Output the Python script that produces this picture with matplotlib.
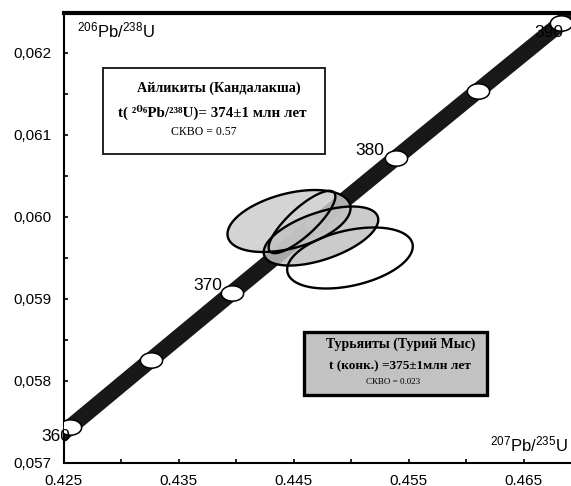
import numpy as np
import matplotlib.pyplot as plt
from matplotlib.patches import Rectangle, Polygon
from matplotlib.path import Path
from matplotlib.ticker import MultipleLocator, FixedLocator

plt.rcParams['mathtext.fontset'] = 'custom'
plt.rcParams['mathtext.rm'] = 'Liberation Sans'
plt.rcParams['mathtext.it'] = 'Liberation Sans:italic'
plt.rcParams['mathtext.bf'] = 'Liberation Sans:bold'

# decay constants (1/yr)
l238 = 1.55125e-10
l235 = 9.8485e-10

# concordia age marks, Ma
ages = [360, 365, 370, 375, 380, 385, 390]
label_ages = [360, 370, 380, 390]

# analyses: centre 207Pb/235U, 206Pb/238U, 2s half-widths, error correlation
pt_x = [0.44461, 0.44574, 0.44739, 0.44991]
pt_y = [0.059951, 0.059939, 0.059768, 0.059500]
sig_x = [0.00535, 0.00290, 0.00498, 0.00546]
sig_y = [0.000378, 0.000380, 0.000360, 0.000372]
rho = [0.42, 0.82, 0.55, 0.38]
fills = ['#cdcdcd', None, '#c2c2c2', None]

x_ticks = [0.425, 0.435, 0.445, 0.455, 0.465]
y_ticks = [0.057, 0.058, 0.059, 0.060, 0.061, 0.062]


def concordia(t_ma):
    t = np.asarray(t_ma) * 1e6
    return np.exp(l235 * t) - 1, np.exp(l238 * t) - 1


def error_ellipse(cx, cy, sx, sy, r, n=200):
    th = np.linspace(0, 2 * np.pi, n)
    x = cx + sx * np.cos(th)
    y = cy + sy * (r * np.cos(th) + np.sqrt(1 - r ** 2) * np.sin(th))
    return np.column_stack([x, y])


fig = plt.figure(figsize=(5.71, 4.86), dpi=100)
W, H = 571, 486
ax = fig.add_axes([63.5 / W, (H - 463) / H, (W - 63.5) / W, 450 / H])
ax.set_xlim(0.425, 0.425 + 507.5 / 11500)
ax.set_ylim(0.057, 0.057 + 450 / 82000)

# concordia band
tt = np.linspace(359, 393, 300)
cx, cy = concordia(tt)
ax.plot(cx, cy, color='#181818', lw=11.5, solid_capstyle='butt', zorder=2)

# age marks
th = np.linspace(0, 2 * np.pi, 60)
mark = Path(np.column_stack([1.45 * np.cos(th), np.sin(th)]), closed=True)
mx, my = concordia(ages)
ax.plot(mx, my, ls='none', marker=mark, ms=16, mfc='white', mec='black',
        mew=1.1, zorder=3)

offsets = {360: (1, -9), 370: (-10, 7), 380: (-12, 7), 390: (2, -10)}
for a in label_ages:
    x, y = concordia(a)
    ax.annotate(str(a), (x, y), xytext=offsets[a], textcoords='offset pixels',
                ha='right', va='center', fontsize=12.5,
                family='Liberation Sans', zorder=3)

# error ellipses: fills first, outlines on top
for i in range(len(pt_x)):
    pts = error_ellipse(pt_x[i], pt_y[i], sig_x[i], sig_y[i], rho[i])
    if fills[i]:
        ax.add_patch(Polygon(pts, closed=True, fc=fills[i], ec='none',
                             alpha=0.85, zorder=4))
for i in range(len(pt_x)):
    pts = error_ellipse(pt_x[i], pt_y[i], sig_x[i], sig_y[i], rho[i])
    ax.add_patch(Polygon(pts, closed=True, fc='none', ec='black',
                         lw=1.7, zorder=5))

# axes styling
for s in ['left', 'bottom']:
    ax.spines[s].set_linewidth(1.5)
ax.spines['top'].set_linewidth(3)
ax.spines['right'].set_visible(False)

ax.xaxis.set_major_locator(FixedLocator(x_ticks))
ax.xaxis.set_minor_locator(MultipleLocator(0.005))
ax.yaxis.set_major_locator(FixedLocator(y_ticks))
ax.yaxis.set_minor_locator(MultipleLocator(0.0005))
ax.set_xticklabels([f'{v:.3f}' for v in x_ticks])
ax.set_yticklabels([f'{v:.3f}'.replace('.', ',') for v in y_ticks])
ax.tick_params(which='both', direction='in', length=3, width=1.2,
               top=False, right=False)
ax.tick_params(axis='y', pad=9)
ax.tick_params(axis='x', pad=8)
for lab in ax.get_xticklabels() + ax.get_yticklabels():
    lab.set_family('Liberation Sans')
    lab.set_fontsize(11)

ax.text(0.027, 0.962, r'$^{206}$Pb/$^{238}$U', transform=ax.transAxes,
        ha='left', va='center', fontsize=12, family='Liberation Sans')
ax.text(0.994, 0.042, r'$^{207}$Pb/$^{235}$U', transform=ax.transAxes,
        ha='right', va='center', fontsize=12, family='Liberation Sans')

serif = ['Liberation Serif', 'DejaVu Serif']

# ailikite box
ax.add_patch(Rectangle((0.0778, 0.6867), 0.4375, 0.1911, transform=ax.transAxes,
                       fc='white', ec='#222222', lw=1.4, zorder=6))
ax.text(0.307, 0.833, 'Айликиты (Кандалакша)', transform=ax.transAxes,
        ha='center', va='center', fontsize=10.2, weight='bold', family=serif, zorder=7)
ax.text(0.294, 0.778, 't( ²⁰⁶Pb/²³⁸U)= 374±1 млн лет', transform=ax.transAxes,
        ha='center', va='center', fontsize=10.8, weight='bold', family=serif, zorder=7)
ax.text(0.276, 0.736, 'СКВО = 0.57', transform=ax.transAxes,
        ha='center', va='center', fontsize=8.5, family=serif, zorder=7)

# turjaite box
ax.add_patch(Rectangle((0.4739, 0.1511), 0.3606, 0.14, transform=ax.transAxes,
                       fc='#c2c2c2', ec='black', lw=2.4, zorder=6))
ax.text(0.665, 0.264, 'Турьяиты (Турий Мыс)', transform=ax.transAxes,
        ha='center', va='center', fontsize=10, weight='bold', family=serif, zorder=7)
ax.text(0.663, 0.216, 't (конк.) =375±1млн лет', transform=ax.transAxes,
        ha='center', va='center', fontsize=9.5, weight='bold', family=serif, zorder=7)
ax.text(0.650, 0.180, 'СКВО = 0.023', transform=ax.transAxes,
        ha='center', va='center', fontsize=6.5, family=serif, zorder=7)

fig.savefig('out.png', dpi=100)
